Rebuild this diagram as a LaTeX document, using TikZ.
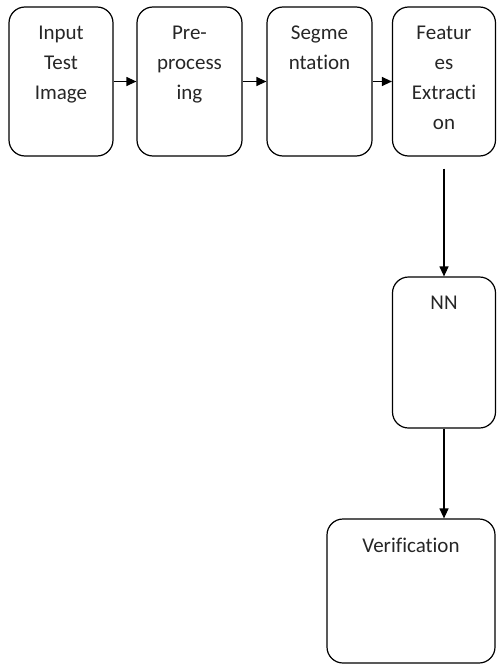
\documentclass[tikz,border=0pt]{standalone}
\usepackage{fontspec}
\setmainfont{Carlito}[Ligatures=NoCommon]
\usetikzlibrary{positioning, arrows.meta}

% text set at the top of a box: width, height, lines
\newcommand{\toptext}[3]{\parbox[t][#2][t]{#1}{\centering\vspace*{19pt}#3}}

\begin{document}
\begin{tikzpicture}[node distance=128pt, on grid,
    stage/.style={draw, rounded corners=16pt, inner sep=0pt, line width=1.2pt},
    flow/.style={-{Triangle[length=10pt,width=9pt]}, line width=1.2pt},
    font=\fontsize{21}{30}\selectfont, text=black!85]
   \useasboundingbox (0,0) rectangle (496pt,-664pt);

   \node[stage] (in) at (61pt,-81.5pt) {\toptext{104pt}{149pt}{Input\\Test\\Image}};
   \node[stage] (prep) [right=128.5pt of in] {\toptext{105pt}{149pt}{Pre-\\process\\ing}};
   \node[stage] (seg) [right=130pt of prep] {\toptext{105pt}{149pt}{Segme\\ntation}};
   \node[stage] (feat) [right=124.5pt of seg] {\toptext{103pt}{149pt}{Featur\\es\\Extracti\\on}};
   \node[stage] (nn) [below=271pt of feat] {\toptext{103pt}{151pt}{NN}};
   \node[stage] (ver) [below=238.5pt of nn, xshift=-33pt] {\toptext{168pt}{144pt}{Verification}};

   \draw[flow] (in) -- (prep);
   \draw[flow] (prep) -- (seg);
   \draw[flow] (seg) -- (feat);
   \draw[flow, shorten <=12pt] (feat) -- (nn);
   \draw[flow] (nn.south) -- (nn.south |- ver.north);
\end{tikzpicture}
\end{document}
